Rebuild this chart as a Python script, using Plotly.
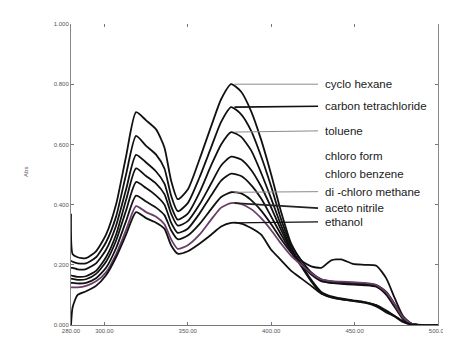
import plotly.graph_objects as go

wavelength = [280, 281, 284, 289, 295, 301, 307, 313, 319, 325, 331, 336, 340, 344, 350, 357, 364, 370, 376,
              382, 388, 394, 400, 406, 412, 418, 424, 430, 436, 442, 449, 456, 463, 469, 474, 479, 484, 490, 500]

cyclo_hexane = [0.37, 0.235, 0.225, 0.222, 0.245, 0.30, 0.40, 0.56, 0.707, 0.68, 0.65, 0.59, 0.48, 0.418, 0.45, 0.55, 0.66, 0.75, 0.80,
                0.775, 0.71, 0.615, 0.50, 0.375, 0.27, 0.215, 0.195, 0.19, 0.215, 0.218, 0.203, 0.20, 0.197, 0.155, 0.09, 0.03, 0.005, 0.0, 0.0]
carbon_tetrachloride = [0.214, 0.21, 0.205, 0.205, 0.225, 0.275, 0.36, 0.50, 0.628, 0.595, 0.566, 0.52, 0.43, 0.378, 0.405, 0.49, 0.59, 0.675, 0.724,
                        0.70, 0.645, 0.56, 0.46, 0.35, 0.265, 0.215, 0.175, 0.152, 0.145, 0.142, 0.14, 0.137, 0.133, 0.11, 0.07, 0.025, 0.005, 0.0, 0.0]
toluene = [0.19, 0.19, 0.185, 0.186, 0.205, 0.25, 0.33, 0.45, 0.565, 0.54, 0.51, 0.47, 0.395, 0.35, 0.37, 0.44, 0.53, 0.60, 0.641,
           0.625, 0.58, 0.505, 0.42, 0.33, 0.255, 0.20, 0.15, 0.11, 0.095, 0.088, 0.082, 0.076, 0.065, 0.045, 0.03, 0.012, 0.002, 0.0, 0.0]
chloro_form = [0.165, 0.163, 0.16, 0.162, 0.18, 0.225, 0.30, 0.415, 0.52, 0.495, 0.47, 0.435, 0.37, 0.33, 0.345, 0.40, 0.47, 0.53, 0.559,
               0.55, 0.515, 0.46, 0.39, 0.315, 0.25, 0.205, 0.17, 0.148, 0.14, 0.138, 0.136, 0.134, 0.13, 0.105, 0.065, 0.022, 0.004, 0.0, 0.0]
chloro_benzene = [0.154, 0.153, 0.15, 0.152, 0.17, 0.21, 0.28, 0.38, 0.475, 0.455, 0.43, 0.40, 0.34, 0.306, 0.32, 0.37, 0.43, 0.48, 0.503,
                  0.495, 0.465, 0.42, 0.36, 0.30, 0.245, 0.195, 0.145, 0.105, 0.092, 0.085, 0.08, 0.074, 0.062, 0.042, 0.028, 0.01, 0.002, 0.0, 0.0]
dichloro_methane = [0.14, 0.14, 0.138, 0.14, 0.155, 0.19, 0.255, 0.345, 0.43, 0.41, 0.39, 0.365, 0.315, 0.285, 0.297, 0.335, 0.385, 0.425, 0.441,
                    0.437, 0.415, 0.38, 0.335, 0.285, 0.24, 0.20, 0.168, 0.146, 0.14, 0.137, 0.134, 0.132, 0.127, 0.10, 0.06, 0.02, 0.003, 0.0, 0.0]
aceto_nitrile = [0.125, 0.125, 0.125, 0.13, 0.145, 0.175, 0.235, 0.315, 0.395, 0.375, 0.36, 0.335, 0.285, 0.253, 0.265, 0.30, 0.35, 0.39, 0.405,
                 0.402, 0.385, 0.355, 0.315, 0.27, 0.23, 0.20, 0.172, 0.152, 0.146, 0.144, 0.142, 0.14, 0.133, 0.108, 0.068, 0.025, 0.005, 0.0, 0.0]
ethanol = [0.0, 0.06, 0.10, 0.112, 0.13, 0.165, 0.225, 0.30, 0.375, 0.355, 0.34, 0.32, 0.265, 0.237, 0.245, 0.27, 0.30, 0.327, 0.339,
           0.337, 0.322, 0.30, 0.25, 0.215, 0.18, 0.155, 0.13, 0.105, 0.093, 0.086, 0.08, 0.075, 0.066, 0.048, 0.03, 0.012, 0.002, 0.0, 0.0]

series_names = ["cyclo hexane", "carbon tetrachloride", "toluene", "chloro form",
                "chloro benzene", "di -chloro methane", "aceto nitrile", "ethanol"]
series_values = [cyclo_hexane, carbon_tetrachloride, toluene, chloro_form,
                 chloro_benzene, dichloro_methane, aceto_nitrile, ethanol]
series_colors = ["#111111"] * 6 + ["#6a3d6a", "#111111"]

# label heights (absorbance units)
label_y = [0.80, 0.727, 0.645, 0.562, 0.503, 0.443, 0.388, 0.343]

x_ticks = [280, 300, 350, 400, 450, 500]
x_tick_labels = ["280.00", "300.00", "350.00", "400.00", "450.00", "500.00"]
y_ticks = [0, 0.2, 0.4, 0.6, 0.8, 1.0]
y_tick_labels = ["0.000", "0.200", "0.400", "0.600", "0.800", "1.000"]

# leader-line styles per label (None = no leader line)
leader_style = [("#8a8a8a", 1), ("#111111", 1.6), ("#8a8a8a", 1), None, None,
                ("#8a8a8a", 1), ("#222222", 1.6), ("#111111", 1.2)]

fig = go.Figure()
for name, vals, col in zip(series_names, series_values, series_colors):
    fig.add_trace(go.Scatter(x=wavelength, y=vals, mode="lines", name=name,
                             line=dict(color=col, width=1.8, shape="spline", smoothing=0.6),
                             showlegend=False))

peak_idx = wavelength.index(376)
label_x = 429
for name, vals, style, ly in zip(series_names, series_values, leader_style, label_y):
    py = vals[peak_idx]
    if style is not None:
        col, w = style
        fig.add_annotation(x=378, y=py, xref="x", yref="y", ax=label_x, ay=ly, axref="x", ayref="y",
                           text="", showarrow=True, arrowhead=0, arrowwidth=w, arrowcolor=col,
                           standoff=0, startstandoff=0)
    fig.add_annotation(x=label_x, y=ly, xref="x", yref="y", text=name, showarrow=False,
                       xanchor="left", yanchor="middle", xshift=3,
                       font=dict(family="Liberation Sans, Arial", size=11.5, color="#1a1a1a"))

fig.add_annotation(x=-0.135, y=0.51, xref="paper", yref="paper", text="Abs", textangle=-90,
                   showarrow=False, font=dict(family="Liberation Sans, Arial", size=6, color="#555555"))

fig.update_layout(
    width=451, height=337,
    margin=dict(l=63, r=11, t=16, b=17),
    plot_bgcolor="white", paper_bgcolor="white",
    xaxis=dict(range=[280, 500], tickvals=x_ticks, ticktext=x_tick_labels, showgrid=False,
               zeroline=False, showline=True, linecolor="#777777", linewidth=1,
               ticks="inside", ticklen=3, tickcolor="#777777",
               tickfont=dict(family="Liberation Sans, Arial", size=6, color="#555555")),
    xaxis2=dict(range=[280, 500], tickvals=x_ticks, overlaying="x", side="top", showgrid=False,
                zeroline=False, showline=False, ticks="inside", ticklen=3, tickcolor="#777777",
                showticklabels=False),
    yaxis=dict(range=[0, 1.0], tickvals=y_ticks, ticktext=y_tick_labels, showgrid=False,
               zeroline=False, showline=True, linecolor="#888888", linewidth=1, mirror="ticks",
               ticks="inside", ticklen=3, tickcolor="#777777",
               tickfont=dict(family="Liberation Sans, Arial", size=6, color="#555555")),
)
fig.add_trace(go.Scatter(x=[280], y=[0], xaxis="x2", yaxis="y", mode="markers",
                         marker=dict(opacity=0), showlegend=False, hoverinfo="skip"))

fig.write_html("out.html")
